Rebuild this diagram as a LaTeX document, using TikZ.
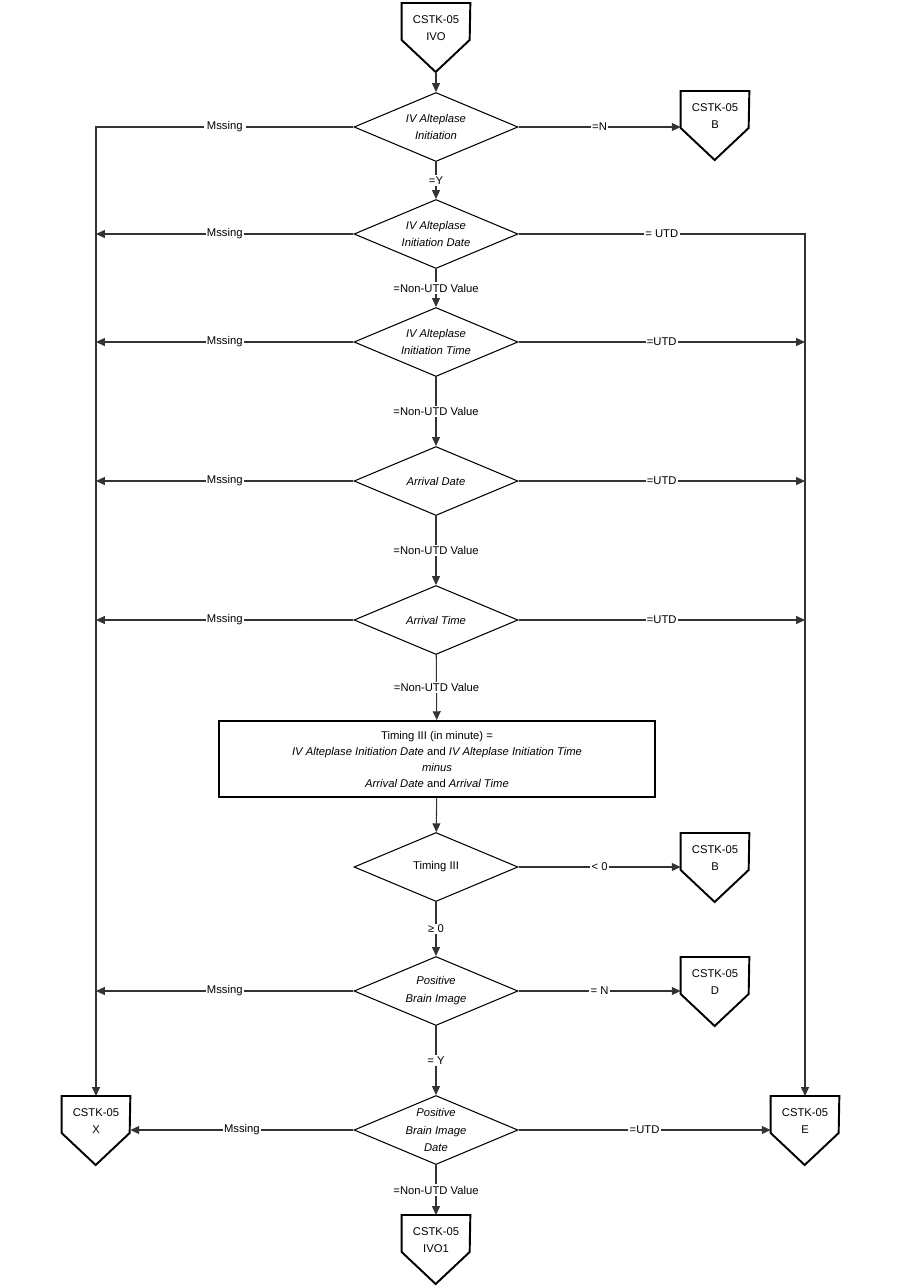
\documentclass[tikz,border=0pt]{standalone}
\usepackage{fontspec}
\setmainfont{Liberation Sans}
\usetikzlibrary{shapes.geometric,arrows.meta}

\tikzstyle{decision} = [diamond, aspect=2.4, minimum width=3.28cm, minimum height=1.38cm, inner sep=-2pt, text centered, align=center, draw=black, line width=0.6pt, font=\fontsize{6.4}{10.2}\selectfont\itshape]
\tikzstyle{process} = [rectangle, minimum width=8.72cm, minimum height=1.52cm, text centered, align=center, draw=black, line width=1.1pt, font=\fontsize{6.4}{9.1}\selectfont]
\tikzstyle{offpage} = [rectangle, minimum width=1.36cm, inner xsep=2pt, inner ysep=7.2pt, anchor=north, text centered, align=center]
\tikzstyle{boxline} = [draw=black, line width=1.1pt, line join=miter]
\tikzstyle{arrow} = [draw=black!80, line width=0.6pt, ->, >={Triangle[length=5pt,width=4.5pt]}]
\tikzstyle{lbl} = [fill=white, inner sep=0.8pt, text=black]

% off-page reference: name, top point, second line
\newcommand{\offpage}[3]{%
  \node (#1) [offpage] at (#2) {CSTK-05\\#3};
  \draw [boxline] (#1.north west) -- ++(0,37) -- ++(34,32) -- ++(34,-32) -- (#1.north east) -- cycle;
  \path (#1.north) ++(0,69) coordinate (#1tip);
}

\begin{document}
\begin{tikzpicture}[x=0.02cm, y=-0.02cm, font=\fontsize{6.4}{9.7}\selectfont]

\useasboundingbox (0,0) rectangle (900,1286);

\offpage{ivo}{436,3}{IVO}
\offpage{initB}{715,91}{B}
\offpage{timingB}{715,833}{B}
\offpage{imageD}{715,957}{D}
\offpage{missX}{96,1096}{X}
\offpage{utdE}{805,1096}{E}
\offpage{ivoOne}{436,1215}{IVO1}

\node (init) [decision] at (436,127) {IV Alteplase\\Initiation};
\node (initdate) [decision] at (436,234) {IV Alteplase\\Initiation Date};
\node (inittime) [decision] at (436,342) {IV Alteplase\\Initiation Time};
\node (arrdate) [decision] at (436,481) {Arrival Date};
\node (arrtime) [decision] at (436,620) {Arrival Time};
\node (calc) [process] at (437,759) {Timing III (in minute) =\\\textit{IV Alteplase Initiation Date} and \textit{IV Alteplase Initiation Time}\\\textit{minus}\\\textit{Arrival Date} and \textit{Arrival Time}};
\node (timing) [decision, font=\fontsize{6.4}{10.2}\selectfont] at (436,867) {Timing III};
\node (image) [decision] at (436,991) {Positive\\Brain Image};
\node (imagedate) [decision] at (436,1130) {Positive\\Brain Image\\Date};

\draw [arrow] (ivotip) -- (init);
\draw [arrow] (init.west) -| node [lbl, pos=0.25] {\,Mssing\,} (missX.north);
\draw [arrow] (init.east) -- node [lbl] {=N} (init.east -| initB.west);
\draw [arrow] (init) -- node [lbl] {=Y} (initdate);

\draw [arrow] (initdate.west) -- node [lbl] {Mssing} (initdate.west -| missX.north);
\draw [arrow] (initdate.east) -| node [lbl, pos=0.25] {= UTD} (utdE.north);
\draw [arrow] (initdate) -- node [lbl] {=Non-UTD Value} (inittime);

\draw [arrow] (inittime.west) -- node [lbl] {Mssing} (inittime.west -| missX.north);
\draw [arrow] (inittime.east) -- node [lbl] {=UTD} (inittime.east -| utdE.north);
\draw [arrow] (inittime) -- node [lbl] {=Non-UTD Value} (arrdate);

\draw [arrow] (arrdate.west) -- node [lbl] {Mssing} (arrdate.west -| missX.north);
\draw [arrow] (arrdate.east) -- node [lbl] {=UTD} (arrdate.east -| utdE.north);
\draw [arrow] (arrdate) -- node [lbl] {=Non-UTD Value} (arrtime);

\draw [arrow] (arrtime.west) -- node [lbl] {Mssing} (arrtime.west -| missX.north);
\draw [arrow] (arrtime.east) -- node [lbl] {=UTD} (arrtime.east -| utdE.north);
\draw [arrow] (arrtime) -- node [lbl] {=Non-UTD Value} (calc);

\draw [arrow] (calc) -- (timing);
\draw [arrow] (timing.east) -- node [lbl] {< 0} (timing.east -| timingB.west);
\draw [arrow] (timing) -- node [lbl] {≥ 0} (image);

\draw [arrow] (image.west) -- node [lbl] {Mssing} (image.west -| missX.north);
\draw [arrow] (image.east) -- node [lbl] {= N} (image.east -| imageD.west);
\draw [arrow] (image) -- node [lbl] {= Y} (imagedate);

\draw [arrow] (imagedate.west) -- node [lbl] {Mssing} (imagedate.west -| missX.east);
\draw [arrow] (imagedate.east) -- node [lbl] {=UTD} (imagedate.east -| utdE.west);
\draw [arrow] (imagedate) -- node [lbl] {=Non-UTD Value} (ivoOne);

\end{tikzpicture}
\end{document}
